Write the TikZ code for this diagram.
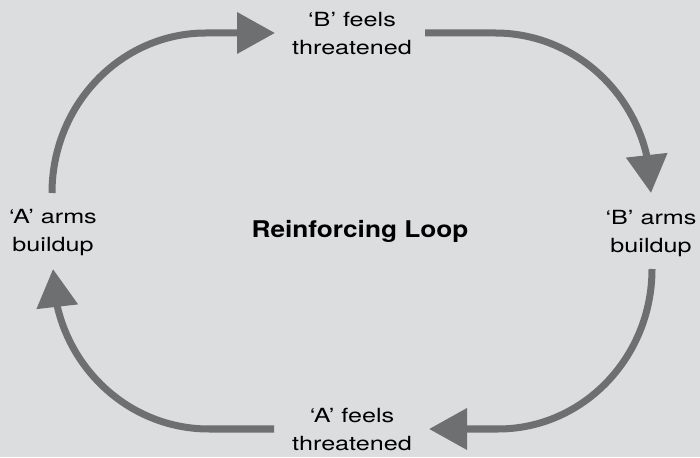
\documentclass[tikz,border=0pt]{standalone}
\usepackage{fontspec}
\setmainfont{TeX Gyre Heros}
\newfontfamily\labfont{TeX Gyre Heros}[FakeStretch=1.29]
\newfontfamily\loopfont{TeX Gyre Heros}[FakeStretch=1.14]
\usetikzlibrary{arrows.meta,bending}
\definecolor{bg}{RGB}{220,221,223}
\definecolor{arr}{RGB}{110,111,113}
\begin{document}
\begin{tikzpicture}[x=1pt,y=1pt,
  lab/.style={font=\labfont\fontsize{19.5}{28}\selectfont, align=center, text=black, inner sep=0pt},
  looptitle/.style={font=\loopfont\bfseries\fontsize{23}{28}\selectfont, anchor=base, inner sep=0pt, text=black},
  looparrow/.style={draw=arr, line width=7pt, -{Triangle[length=38pt,width=40pt,flex]}}]
\fill[bg] (0,0) rectangle (700,457);
\useasboundingbox (0,0) rectangle (700,457);

\node[lab] (aarms) at (53,224) {‘A’ arms\\buildup};
\node[lab] (bfeels) at (352,423) {‘B’ feels\\threatened};
\node[lab] (barms) at (651,223) {‘B’ arms\\buildup};
\node[lab] (afeels) at (352,27) {‘A’ feels\\threatened};
\node[looptitle] (loop) at (360,219) {Reinforcing Loop};

% connector end points
\coordinate (s1) at (52,264);
\coordinate (e1) at (275,424);
\coordinate (s2) at (425,424);
\coordinate (s3) at (652,188);
\coordinate (e3) at (429,28);
\coordinate (s4) at (274,28);

\draw[looparrow] (s1) arc[start angle=180,end angle=90,x radius=154pt,y radius=160pt] -- (e1);
\draw[looparrow] (s2) -- (495,424) arc[start angle=90,end angle=0,x radius=156pt,y radius=160pt];
\draw[looparrow] (s3) arc[start angle=0,end angle=-90,x radius=154pt,y radius=160pt] -- (e3);
\draw[looparrow] (s4) -- (209,28) arc[start angle=270,end angle=180,x radius=156pt,y radius=160pt];
\end{tikzpicture}
\end{document}
